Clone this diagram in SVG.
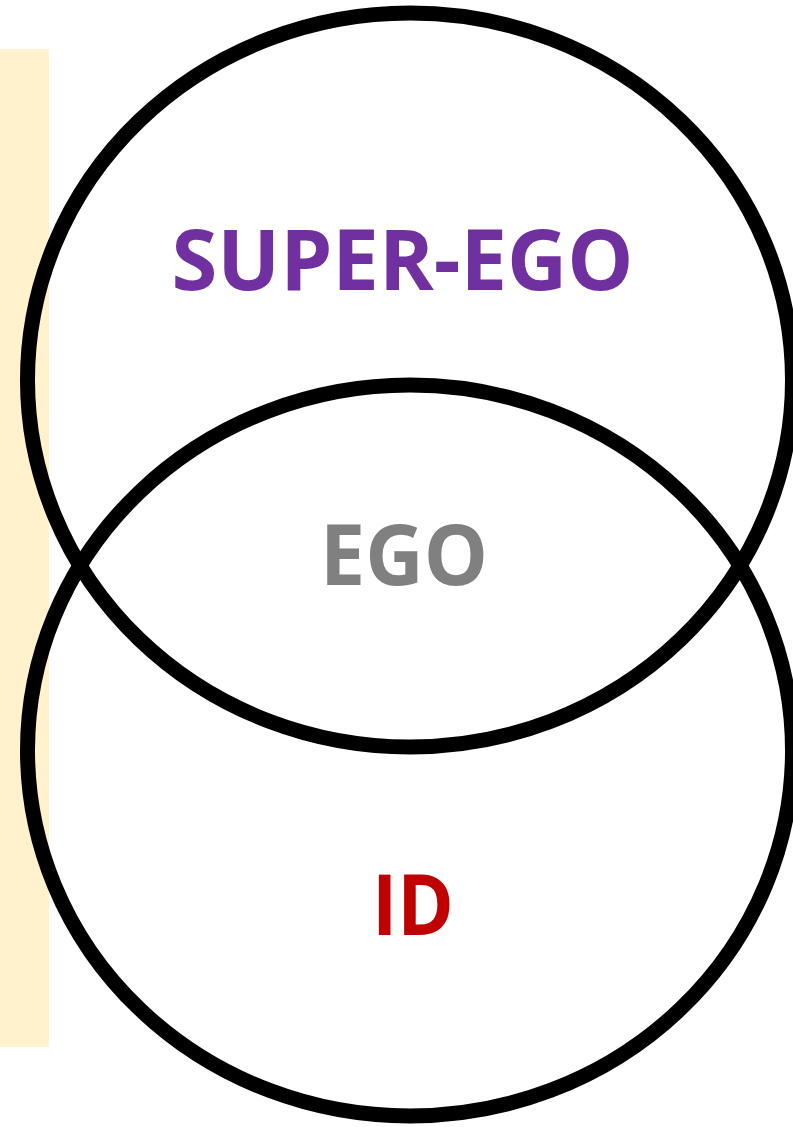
<svg xmlns="http://www.w3.org/2000/svg" width="793" height="1127" viewBox="0 0 793 1127">
<style>
.ring{fill:none;stroke:#000;stroke-width:15}
.lbl{font-family:"Open Sans","Liberation Sans",sans-serif;font-weight:bold;font-size:85px;text-anchor:middle}
</style>
<rect x="0" y="0" width="793" height="1127" fill="#fff"/>
<rect id="band" x="0" y="49" width="49" height="998" fill="#FFF2CC"/>
<g id="id-circle">
<ellipse class="ring" cx="410" cy="750.5" rx="382.5" ry="365.5"/>
</g>
<g id="superego-circle">
<ellipse class="ring" cx="410" cy="380" rx="382.5" ry="367"/>
</g>
<g id="labels">
<text id="superego" class="lbl" x="402.5" y="290" fill="#7030A0" textLength="462" lengthAdjust="spacingAndGlyphs">SUPER-EGO</text>
<text id="ego" class="lbl" x="404" y="585" fill="#808080" textLength="168" lengthAdjust="spacingAndGlyphs">EGO</text>
<text id="id" class="lbl" x="413" y="935" fill="#C00000" textLength="82" lengthAdjust="spacingAndGlyphs">ID</text>
</g>
</svg>
